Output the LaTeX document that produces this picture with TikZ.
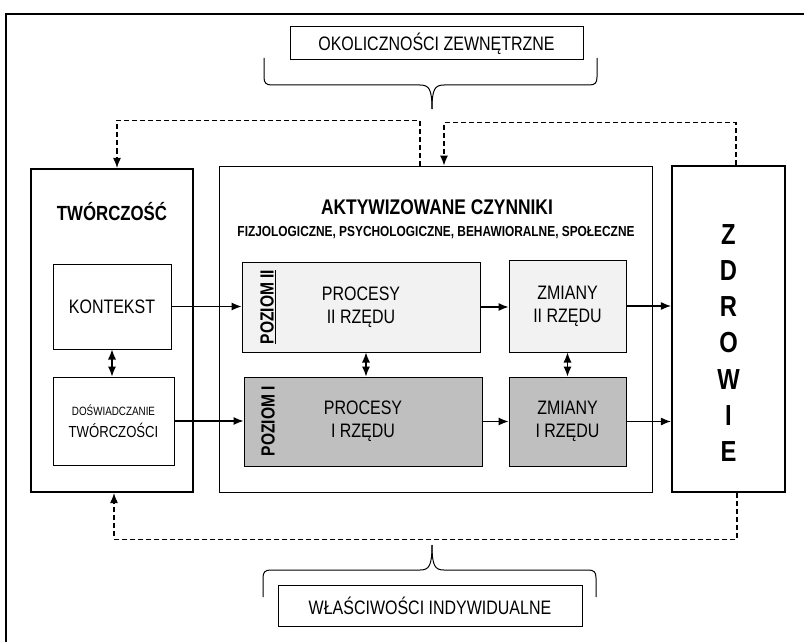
\documentclass[tikz,border=0pt]{standalone}
\usepackage{fontspec}
\setmainfont[FakeStretch=0.82]{Liberation Sans}
\usepackage{tikz}
\usetikzlibrary{arrows}
\usetikzlibrary{arrows.meta}
\usetikzlibrary{shapes}

\tikzstyle{bx} = [rectangle, draw, line width=1pt, inner sep=0pt, align=center,
    font=\fontsize{19.5}{23}\selectfont]
\tikzstyle{bigbx} = [bx, line width=2.2pt]
\tikzstyle{lvltwo} = [bx, fill=black!5]
\tikzstyle{lvlone} = [bx, fill=black!25]
\tikzstyle{hd} = [inner sep=0pt, font=\bfseries\fontsize{21.2}{24}\selectfont]
\tikzstyle{lvl} = [inner sep=0pt, rotate=90, font=\bfseries\fontsize{19}{23}\selectfont]
\tikzstyle{fb} = [dash pattern=on 5pt off 3pt]
\tikzstyle{brc} = [-, line width=1pt]

\begin{document}
\begin{tikzpicture}[x=1pt,y=-1pt,->,>={Latex[length=10pt,width=8pt]},line width=1.1pt]
  \useasboundingbox (0,0) rectangle (804,642);
  \draw[-,line width=1.6pt] (6,642) -- (6,14) -- (804,14);

  \node[bx, minimum width=293, minimum height=33]    (1) at (436.5,43.5) {OKOLICZNOŚCI ZEWNĘTRZNE};
  \node[bigbx, minimum width=162, minimum height=323] (2) at (112,330.5) {};
  \node[bx, minimum width=118, minimum height=85]     (3) at (112,306.5) {KONTEKST};
  \node[bx, minimum width=121, minimum height=88]     (4) at (113.5,421)
      {{\fontsize{12}{14}\selectfont DOŚWIADCZANIE}\\[-1pt]{\fontsize{16}{18}\selectfont TWÓRCZOŚCI}};
  \node[bx, minimum width=433, minimum height=326]    (5) at (435.5,329) {};
  \node[lvltwo, minimum width=238, minimum height=90] (6) at (361,307) {PROCESY\\II RZĘDU};
  \node[lvlone, minimum width=238, minimum height=89] (7) at (363,421.5) {PROCESY\\I RZĘDU};
  \node[lvltwo, minimum width=117, minimum height=92] (8) at (567.5,306) {ZMIANY\\II RZĘDU};
  \node[lvlone, minimum width=117, minimum height=89] (9) at (567.5,421.5) {ZMIANY\\I RZĘDU};
  \node[bigbx, minimum width=113, minimum height=326] (10) at (728.5,329) {};
  \node[bx, minimum width=304, minimum height=41]    (11) at (430,605.5) {WŁAŚCIWOŚCI INDYWIDUALNE};

  % napisy w ramkach
  \node[hd, font=\bfseries\fontsize{20.5}{24}\selectfont] (2t) at (112,212) {TWÓRCZOŚĆ};
  \node[hd] (5t) at (437,207) {AKTYWIZOWANE CZYNNIKI};
  \node[hd, font=\bfseries\fontsize{14.5}{16}\selectfont] (5s) at (436,233)
      {FIZJOLOGICZNE, PSYCHOLOGICZNE, BEHAWIORALNE, SPOŁECZNE};
  \node[lvl] (6l) at (268,307) {\underline{POZIOM II}};
  \node[lvl] (7l) at (268,421) {POZIOM I};
  \node[inner sep=0pt, align=center, font=\bfseries\fontsize{29}{36.2}\selectfont] (10t) at (728.5,343)
      {Z\\D\\R\\O\\W\\I\\E};

  \path (3.east) edge (3.east -| 6.west)
  (4.east) edge (4.east -| 7.west)
  (6.east) edge (6.east -| 8.west)
  (7.east) edge (7.east -| 9.west)
  (8.east) edge (8.east -| 10.west)
  (9.east) edge (9.east -| 10.west);

  \path[<->] (3.south) edge (3.south |- 4.north)
  ([xshift=5pt]6.south) edge ([xshift=5pt]6.south |- 7.north)
  (8.south) edge (8.south |- 9.north);

  % sprzezenia zwrotne
  \draw[fb] ([xshift=-15.5pt]5.north) -- ++(0,-45) -| ([xshift=5pt]2.north);
  \draw[fb] ([xshift=7.5pt]10.north) -- ++(0,-42) -| ([xshift=8.5pt]5.north);
  \draw[fb] ([xshift=8.5pt]10.south) -- ++(0,46) -| ([xshift=2pt]2.south);

  % klamry
  \draw[brc] (264,58) -- (264,77) .. controls (264,83) and (266,85) .. (272,85) -- (420,85)
      .. controls (429,85) and (432,89) .. (432,109);
  \draw[brc] (597,58) -- (597,77) .. controls (597,83) and (595,85) .. (589,85) -- (444,85)
      .. controls (435,85) and (432,89) .. (432,109);
  \draw[brc] (263,597) -- (263,578) .. controls (263,572) and (265,570) .. (271,570) -- (420,570)
      .. controls (429,570) and (432,566) .. (432,545);
  \draw[brc] (596,597) -- (596,578) .. controls (596,572) and (594,570) .. (588,570) -- (444,570)
      .. controls (435,570) and (432,566) .. (432,545);
\end{tikzpicture}
\end{document}
